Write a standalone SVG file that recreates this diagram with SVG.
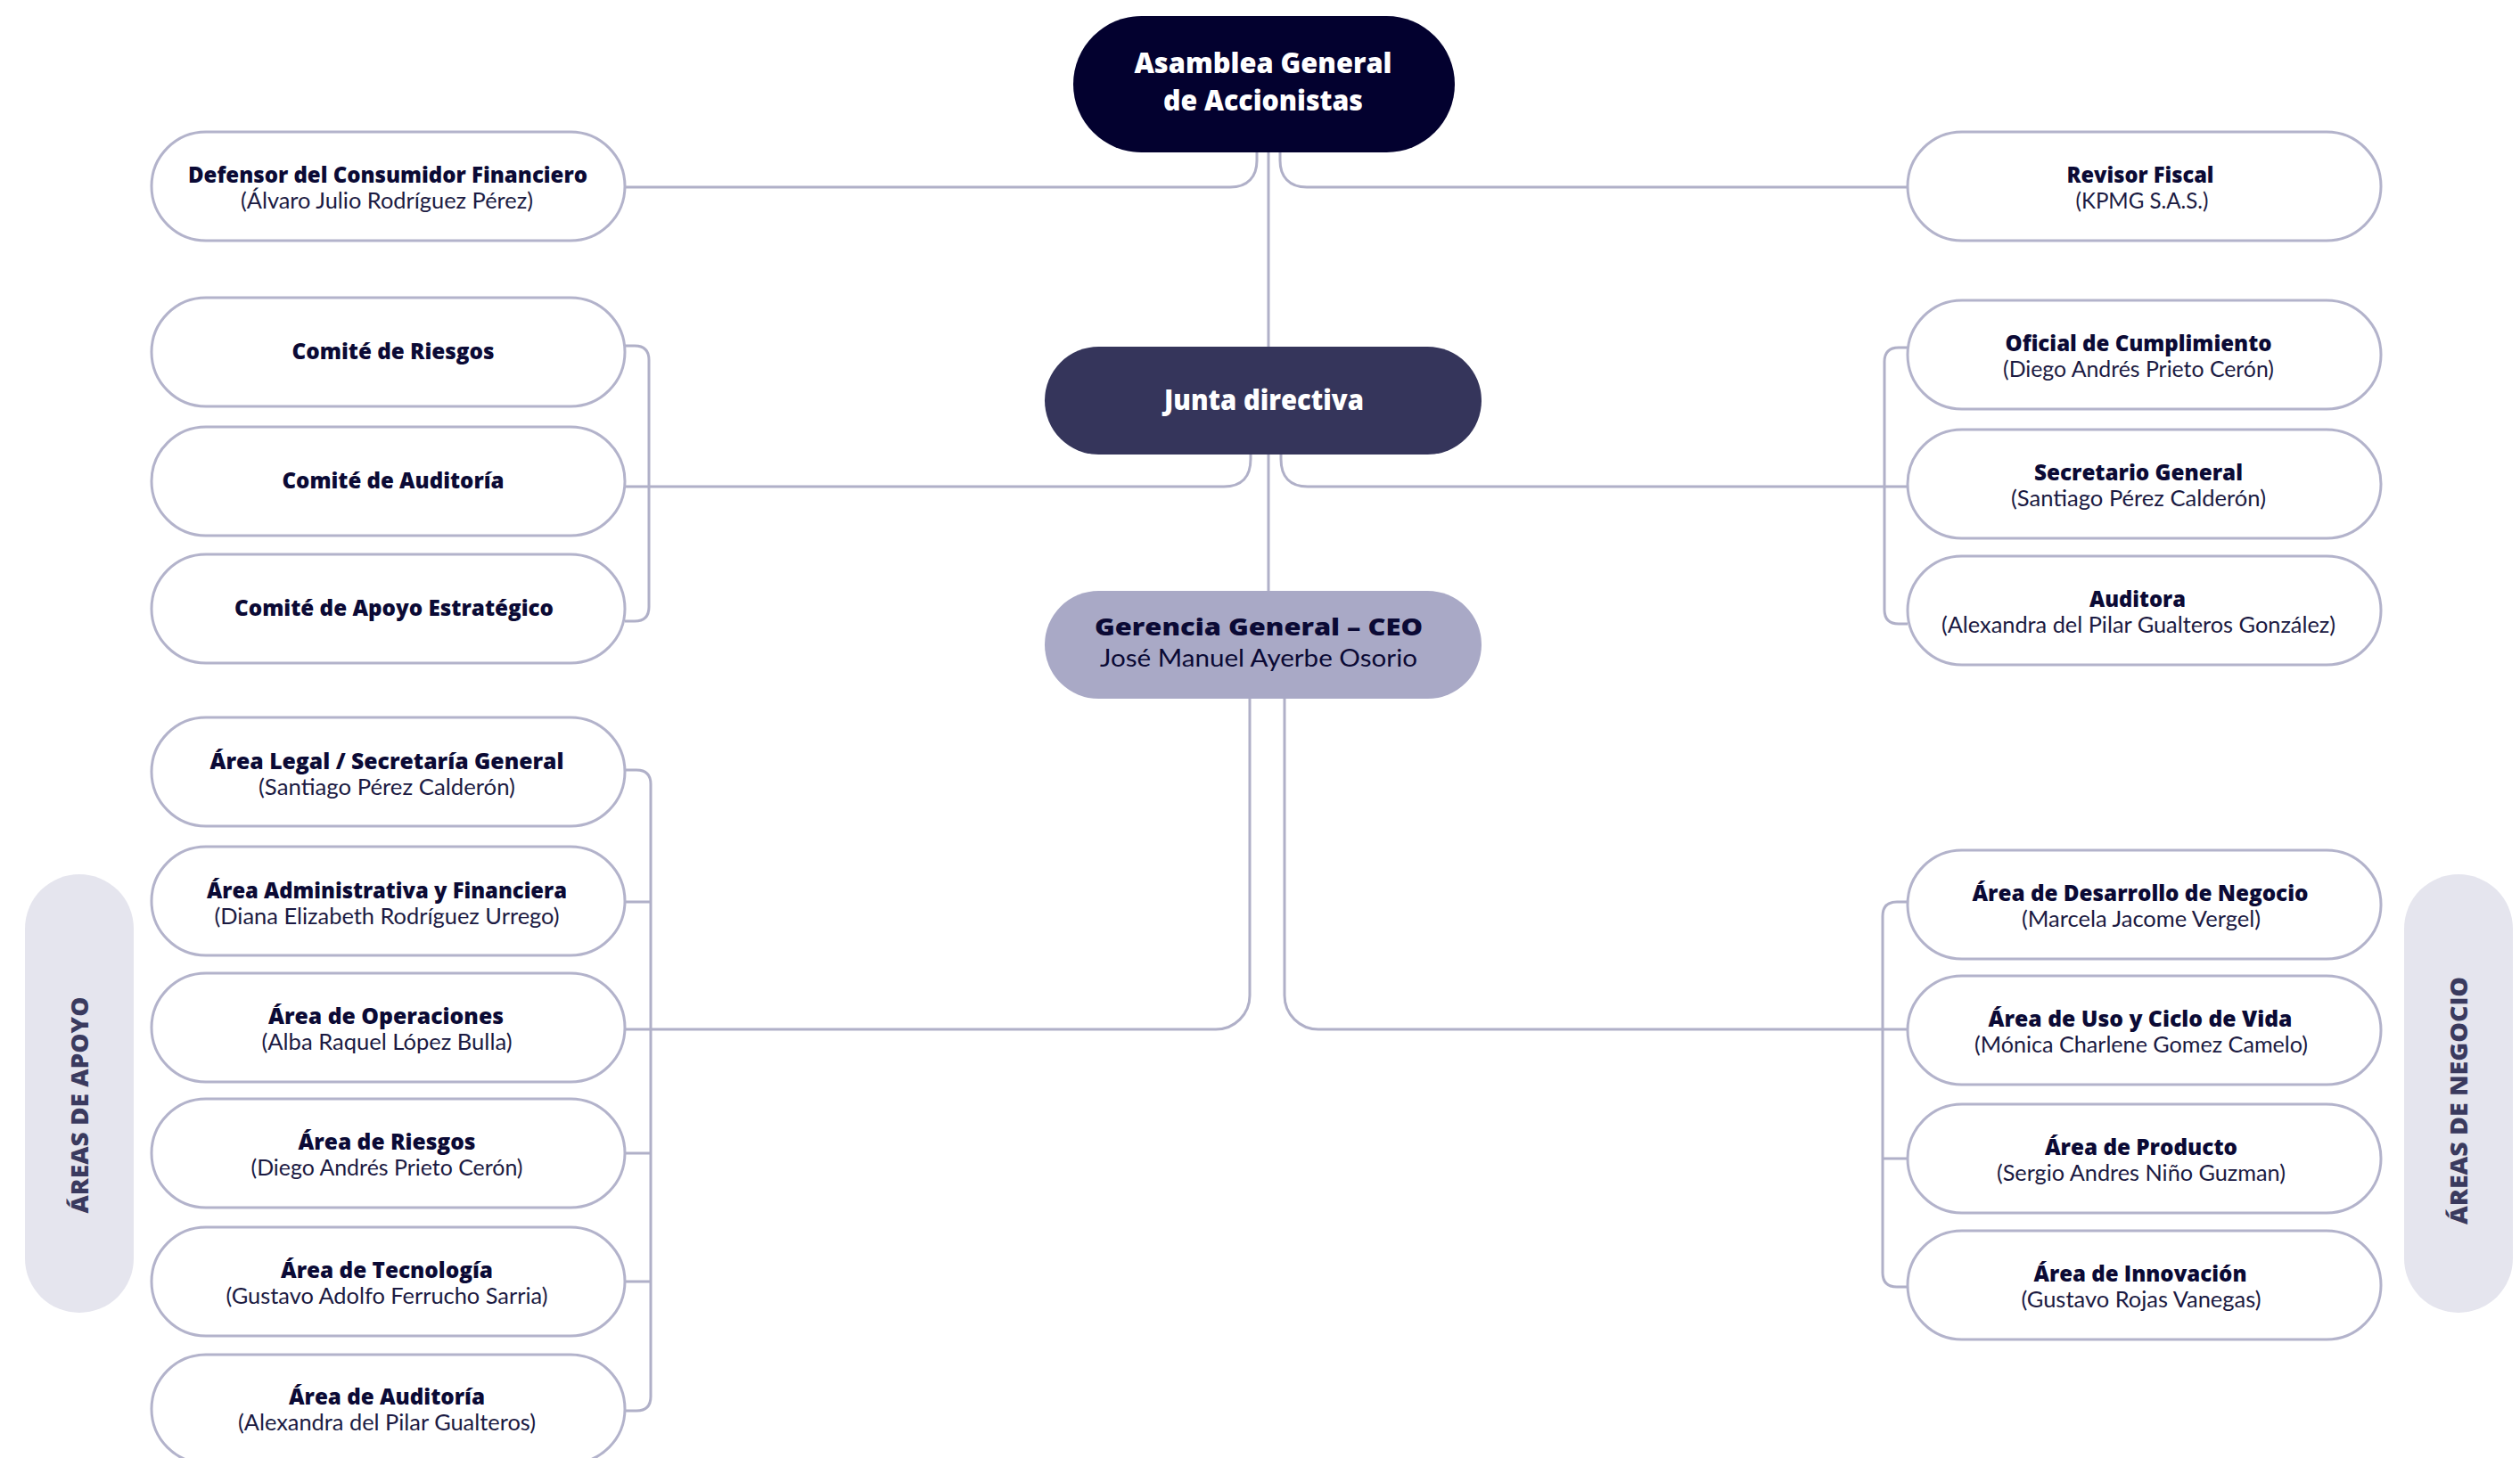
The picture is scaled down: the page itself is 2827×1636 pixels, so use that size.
<svg xmlns="http://www.w3.org/2000/svg" width="2827" height="1636" viewBox="0 0 2827 1636">
<style>
.bg{fill:#ffffff}
.node{fill:#ffffff;stroke:#b3b3cb;stroke-width:3}
.pill{fill:#e5e5ee}
.t{font-family:"Open Sans","Liberation Sans",sans-serif;font-weight:800;font-size:24px;fill:#0b0a35;text-anchor:middle}
.s{font-family:Lato,"Liberation Sans",sans-serif;font-size:25px;fill:#1b1a42;text-anchor:middle}
.c{font-family:"Open Sans","Liberation Sans",sans-serif;font-weight:800;font-size:32px;fill:#ffffff;text-anchor:middle}
.side{font-family:"Open Sans","Liberation Sans",sans-serif;font-weight:800;font-size:26px;fill:#3a3a5e;text-anchor:middle}
.conn path{fill:none;stroke:#b0b0c8;stroke-width:3}
</style>
<rect class="bg" x="0" y="0" width="2827" height="1636"/>

<g class="conn" id="connectors">
<path d="M1423 171 V663"/>
<path d="M1410 171 V180 C1410 198 1400 210 1380 210 H701"/>
<path d="M1436 171 V180 C1436 198 1446 210 1466 210 H2140"/>
<path d="M1403 510 V515 C1403 535 1393 546 1373 546 H701"/>
<path d="M1437 510 V515 C1437 535 1447 546 1467 546 H2140"/>
<path d="M701 388 H712 Q728 388 728 404 V681 Q728 697 712 697 H701"/>
<path d="M2140 390 H2130 Q2114 390 2114 406 V684 Q2114 700 2130 700 H2140"/>
<path d="M1402 784 V1117 A38 38 0 0 1 1364 1155 H701"/>
<path d="M1441 784 V1117 A38 38 0 0 0 1479 1155 H2140"/>
<path d="M701 864 H714 Q730 864 730 880 V1567 Q730 1583 714 1583 H701"/>
<path d="M701 1012 H730 M701 1294 H730 M701 1438 H730"/>
<path d="M2140 1012 H2128 Q2112 1012 2112 1028 V1428 Q2112 1444 2128 1444 H2140"/>
<path d="M2112 1300 H2140"/>
</g>

<g id="asamblea">
<rect x="1204" y="18" width="428" height="153" rx="76.5" fill="#03012f"/>
<text class="c" x="1417" y="82" textLength="289" lengthAdjust="spacingAndGlyphs">Asamblea General</text>
<text class="c" x="1417" y="124" textLength="224" lengthAdjust="spacingAndGlyphs">de Accionistas</text>
</g>

<g id="junta">
<rect x="1172" y="389" width="490" height="121" rx="60.5" fill="#35355b"/>
<text class="c" x="1418" y="460" textLength="224" lengthAdjust="spacingAndGlyphs">Junta directiva</text>
</g>

<g id="gerencia">
<rect x="1172" y="663" width="490" height="121" rx="60.5" fill="#a9a9c6"/>
<text class="t" x="1412" y="713" style="font-size:27px" textLength="368" lengthAdjust="spacingAndGlyphs">Gerencia General – CEO</text>
<text class="s" x="1412" y="748" style="font-size:26px;fill:#0b0a35" textLength="356" lengthAdjust="spacingAndGlyphs">José Manuel Ayerbe Osorio</text>
</g>

<g id="defensor">
<rect class="node" x="170" y="148" width="531" height="122" rx="61"/>
<text class="t" x="435" y="205" textLength="448" lengthAdjust="spacingAndGlyphs">Defensor del Consumidor Financiero</text>
<text class="s" x="434" y="234" textLength="328" lengthAdjust="spacingAndGlyphs">(Álvaro Julio Rodríguez Pérez)</text>
</g>

<g id="revisor">
<rect class="node" x="2140" y="148" width="531" height="122" rx="61"/>
<text class="t" x="2401" y="205" textLength="165" lengthAdjust="spacingAndGlyphs">Revisor Fiscal</text>
<text class="s" x="2403" y="234" textLength="149" lengthAdjust="spacingAndGlyphs">(KPMG S.A.S.)</text>
</g>

<g id="comite-riesgos">
<rect class="node" x="170" y="334" width="531" height="122" rx="61"/>
<text class="t" x="441" y="403" textLength="227" lengthAdjust="spacingAndGlyphs">Comité de Riesgos</text>
</g>
<g id="comite-auditoria">
<rect class="node" x="170" y="479" width="531" height="122" rx="61"/>
<text class="t" x="441" y="548" textLength="249" lengthAdjust="spacingAndGlyphs">Comité de Auditoría</text>
</g>
<g id="comite-apoyo">
<rect class="node" x="170" y="622" width="531" height="122" rx="61"/>
<text class="t" x="442" y="691" textLength="358" lengthAdjust="spacingAndGlyphs">Comité de Apoyo Estratégico</text>
</g>

<g id="oficial">
<rect class="node" x="2140" y="337" width="531" height="122" rx="61"/>
<text class="t" x="2399" y="394" textLength="299" lengthAdjust="spacingAndGlyphs">Oficial de Cumplimiento</text>
<text class="s" x="2399" y="423" textLength="304" lengthAdjust="spacingAndGlyphs">(Diego Andrés Prieto Cerón)</text>
</g>
<g id="secretario">
<rect class="node" x="2140" y="482" width="531" height="122" rx="61"/>
<text class="t" x="2399" y="539" textLength="234" lengthAdjust="spacingAndGlyphs">Secretario General</text>
<text class="s" x="2399" y="568" textLength="286" lengthAdjust="spacingAndGlyphs">(Santiago Pérez Calderón)</text>
</g>
<g id="auditora">
<rect class="node" x="2140" y="624" width="531" height="122" rx="61"/>
<text class="t" x="2398" y="681" textLength="108" lengthAdjust="spacingAndGlyphs">Auditora</text>
<text class="s" x="2399" y="710" textLength="442" lengthAdjust="spacingAndGlyphs">(Alexandra del Pilar Gualteros González)</text>
</g>

<g id="areas-apoyo-label">
<rect class="pill" x="28" y="981" width="122" height="492" rx="61"/>
<text class="side" transform="translate(99,1240) rotate(-90)" x="0" y="0" textLength="243" lengthAdjust="spacingAndGlyphs">ÁREAS DE APOYO</text>
</g>

<g id="area-legal">
<rect class="node" x="170" y="805" width="531" height="122" rx="61"/>
<text class="t" x="434" y="863" textLength="397" lengthAdjust="spacingAndGlyphs">Área Legal / Secretaría General</text>
<text class="s" x="434" y="892" textLength="288" lengthAdjust="spacingAndGlyphs">(Santiago Pérez Calderón)</text>
</g>
<g id="area-administrativa">
<rect class="node" x="170" y="950" width="531" height="122" rx="61"/>
<text class="t" x="434" y="1008" textLength="404" lengthAdjust="spacingAndGlyphs">Área Administrativa y Financiera</text>
<text class="s" x="434" y="1037" textLength="387" lengthAdjust="spacingAndGlyphs">(Diana Elizabeth Rodríguez Urrego)</text>
</g>
<g id="area-operaciones">
<rect class="node" x="170" y="1092" width="531" height="122" rx="61"/>
<text class="t" x="433" y="1149" textLength="264" lengthAdjust="spacingAndGlyphs">Área de Operaciones</text>
<text class="s" x="434" y="1178" textLength="281" lengthAdjust="spacingAndGlyphs">(Alba Raquel López Bulla)</text>
</g>
<g id="area-riesgos">
<rect class="node" x="170" y="1233" width="531" height="122" rx="61"/>
<text class="t" x="434" y="1290" textLength="199" lengthAdjust="spacingAndGlyphs">Área de Riesgos</text>
<text class="s" x="434" y="1319" textLength="305" lengthAdjust="spacingAndGlyphs">(Diego Andrés Prieto Cerón)</text>
</g>
<g id="area-tecnologia">
<rect class="node" x="170" y="1377" width="531" height="122" rx="61"/>
<text class="t" x="434" y="1434" textLength="238" lengthAdjust="spacingAndGlyphs">Área de Tecnología</text>
<text class="s" x="434" y="1463" textLength="361" lengthAdjust="spacingAndGlyphs">(Gustavo Adolfo Ferrucho Sarria)</text>
</g>
<g id="area-auditoria">
<rect class="node" x="170" y="1520" width="531" height="122" rx="61"/>
<text class="t" x="434" y="1576" textLength="220" lengthAdjust="spacingAndGlyphs">Área de Auditoría</text>
<text class="s" x="434" y="1605" textLength="334" lengthAdjust="spacingAndGlyphs">(Alexandra del Pilar Gualteros)</text>
</g>

<g id="areas-negocio-label">
<rect class="pill" x="2697" y="981" width="122" height="492" rx="61"/>
<text class="side" transform="translate(2768,1235) rotate(-90)" x="0" y="0" textLength="278" lengthAdjust="spacingAndGlyphs">ÁREAS DE NEGOCIO</text>
</g>

<g id="area-desarrollo">
<rect class="node" x="2140" y="954" width="531" height="122" rx="61"/>
<text class="t" x="2401" y="1011" textLength="377" lengthAdjust="spacingAndGlyphs">Área de Desarrollo de Negocio</text>
<text class="s" x="2402" y="1040" textLength="268" lengthAdjust="spacingAndGlyphs">(Marcela Jacome Vergel)</text>
</g>
<g id="area-uso">
<rect class="node" x="2140" y="1095" width="531" height="122" rx="61"/>
<text class="t" x="2401" y="1152" textLength="341" lengthAdjust="spacingAndGlyphs">Área de Uso y Ciclo de Vida</text>
<text class="s" x="2402" y="1181" textLength="374" lengthAdjust="spacingAndGlyphs">(Mónica Charlene Gomez Camelo)</text>
</g>
<g id="area-producto">
<rect class="node" x="2140" y="1239" width="531" height="122" rx="61"/>
<text class="t" x="2402" y="1296" textLength="216" lengthAdjust="spacingAndGlyphs">Área de Producto</text>
<text class="s" x="2402" y="1325" textLength="324" lengthAdjust="spacingAndGlyphs">(Sergio Andres Niño Guzman)</text>
</g>
<g id="area-innovacion">
<rect class="node" x="2140" y="1381" width="531" height="122" rx="61"/>
<text class="t" x="2401" y="1438" textLength="239" lengthAdjust="spacingAndGlyphs">Área de Innovación</text>
<text class="s" x="2402" y="1467" textLength="269" lengthAdjust="spacingAndGlyphs">(Gustavo Rojas Vanegas)</text>
</g>
</svg>
